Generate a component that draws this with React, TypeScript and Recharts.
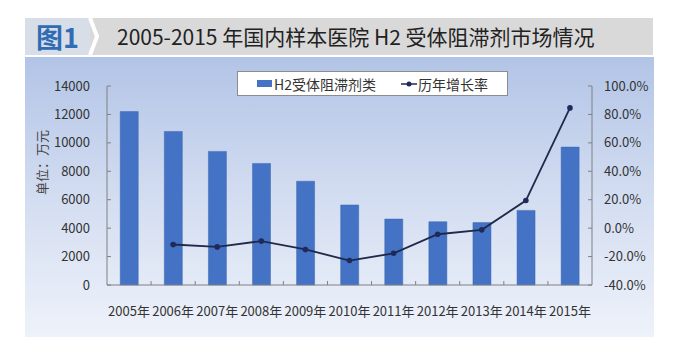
import React from "react"
import {
  ComposedChart,
  Bar,
  Line,
  XAxis,
  YAxis,
  Legend,
} from "recharts"

const years = [
  "2005年", "2006年", "2007年", "2008年", "2009年", "2010年",
  "2011年", "2012年", "2013年", "2014年", "2015年",
]
// 销售额（万元）
const sales = [12200, 10800, 9400, 8550, 7300, 5630, 4640, 4450, 4390, 5250, 9700]
// 历年增长率（%）
const growth = [null, -11.5, -13.2, -9.1, -15.0, -22.8, -17.7, -4.3, -1.2, 19.4, 84.6]
const leftTicks = [0, 2000, 4000, 6000, 8000, 10000, 12000, 14000]
const rightTicks = [-40, -20, 0, 20, 40, 60, 80, 100]

const data = years.map((year, i) => ({
  year,
  sales: sales[i],
  growth: growth[i],
}))

const FONT = '"Noto Sans CJK SC", "Noto Sans", sans-serif'
const AXIS = "#808080"
const TEXT = "#333"

const W = 629
const H = 280
const M = { top: 29, right: 2, bottom: 22, left: 22 }
const YW = 60
const step = (W - M.left - M.right - YW * 2) / years.length

const LeftTick = ({ x, y, payload }: any) => (
  <g>
    <text x={x} y={y} dy={4.5} textAnchor="end" fontSize={13} fill={TEXT} fontFamily={FONT}>
      {payload.value}
    </text>
    <line x1={x + 17} x2={x + 21} y1={y} y2={y} stroke={AXIS} />
  </g>
)

const RightTick = ({ x, y, payload }: any) => (
  <g>
    <text x={x} y={y} dy={4.5} textAnchor="start" fontSize={13} fill={TEXT} fontFamily={FONT}>
      {Number(payload.value).toFixed(1) + "%"}
    </text>
    <line x1={x - 16} x2={x - 12} y1={y} y2={y} stroke={AXIS} />
  </g>
)

const XTick = ({ x, y, payload, index }: any) => (
  <g>
    <text x={x} y={y} dy={14} textAnchor="middle" fontSize={13} fill={TEXT} fontFamily={FONT}>
      {payload.value}
    </text>
    {index < years.length - 1 && (
      <line x1={x + step / 2} x2={x + step / 2} y1={y - 17} y2={y - 21} stroke={AXIS} />
    )}
  </g>
)

const LegendBox = () => (
  <div
    style={{
      height: 25,
      boxSizing: "border-box",
      border: "1px solid #8c8c8c",
      background: "#fff",
      display: "flex",
      alignItems: "center",
      justifyContent: "center",
      fontFamily: FONT,
      fontSize: 14,
      color: TEXT,
    }}
  >
    <span style={{ display: "inline-block", width: 15, height: 7, background: "#4472c4", marginRight: 2 }} />
    <span>H2受体阻滞剂类</span>
    <svg width={18} height={10} style={{ marginLeft: 24 }}>
      <line x1={1} x2={17} y1={5} y2={5} stroke="#1f2a4a" strokeWidth={1.5} />
      <circle cx={9} cy={5} r={2.5} fill="#1f2a5a" />
    </svg>
    <span>历年增长率</span>
  </div>
)

export default function App() {
  return (
    <div
      style={{
        position: "absolute",
        left: 0,
        top: 0,
        width: 687,
        height: 353,
        background: "#fff",
        fontFamily: FONT,
      }}
    >
      {/* 标题栏 */}
      <div
        style={{
          position: "absolute",
          left: 25,
          top: 18,
          width: 65,
          height: 37,
          background: "#d8dee7",
          color: "#2f6cb5",
          fontSize: 27,
          fontWeight: 700,
          lineHeight: "37px",
          textAlign: "center",
        }}
      >
        图1
      </div>
      <div
        style={{
          position: "absolute",
          left: 90,
          top: 18,
          width: 563,
          height: 37,
          background: "#d9d9d9",
        }}
      />
      <svg style={{ position: "absolute", left: 88, top: 18 }} width={14} height={37}>
        <polyline points="2,0 9,18.5 2,37" fill="none" stroke="#fff" strokeWidth={4} />
      </svg>
      <div
        style={{
          position: "absolute",
          left: 117,
          top: 18,
          height: 37,
          lineHeight: "37px",
          fontSize: 21,
          color: "#222",
          whiteSpace: "nowrap",
        }}
      >
        2005-2015 年国内样本医院 H2 受体阻滞剂市场情况
      </div>

      {/* 图表面板 */}
      <div
        style={{
          position: "absolute",
          left: 25,
          top: 57,
          width: W,
          height: H,
          background: "linear-gradient(to bottom, #b2c4e6 0%, #d3ddf1 50%, #eef2fa 100%)",
        }}
      >
        <ComposedChart width={W} height={H} data={data} margin={M} barCategoryGap="30%">
          <XAxis
            dataKey="year"
            height={30}
            stroke={AXIS}
            tickLine={false}
            tickSize={0}
            tickMargin={17}
            interval={0}
            tick={<XTick />}
          />
          <YAxis
            yAxisId="left"
            width={YW}
            domain={[0, 14000]}
            ticks={leftTicks}
            stroke={AXIS}
            tickLine={false}
            tickSize={0}
            tickMargin={17}
            tick={<LeftTick />}
            label={{
              content: ({ viewBox }: any) => {
                const cx = viewBox.x - 6
                const cy = viewBox.y + viewBox.height / 2 - 23
                return (
                  <text
                    x={cx}
                    y={cy}
                    transform={`rotate(-90, ${cx}, ${cy})`}
                    textAnchor="middle"
                    dominantBaseline="central"
                    fontSize={13}
                    fill="#444"
                    fontFamily={FONT}
                  >
                    单位：万元
                  </text>
                )
              },
            }}
          />
          <YAxis
            yAxisId="right"
            orientation="right"
            width={YW}
            domain={[-40, 100]}
            ticks={rightTicks}
            stroke={AXIS}
            tickLine={false}
            tickSize={0}
            tickMargin={12}
            tick={<RightTick />}
          />
          <Legend
            layout="horizontal"
            verticalAlign="middle"
            align="center"
            wrapperStyle={{ top: 14, left: 212, width: 271, height: 25 }}
            content={<LegendBox />}
          />
          <Bar
            yAxisId="left"
            dataKey="sales"
            name="H2受体阻滞剂类"
            fill="#4472c4"
            stroke="#3d66b0"
            strokeWidth={0.5}
            isAnimationActive={false}
          />
          <Line
            yAxisId="right"
            dataKey="growth"
            name="历年增长率"
            stroke="#1f2a4a"
            strokeWidth={1.8}
            dot={{ r: 2.8, fill: "#1f2a5a", stroke: "#1f2a5a", strokeWidth: 0 }}
            isAnimationActive={false}
          />
        </ComposedChart>
      </div>
    </div>
  )
}
